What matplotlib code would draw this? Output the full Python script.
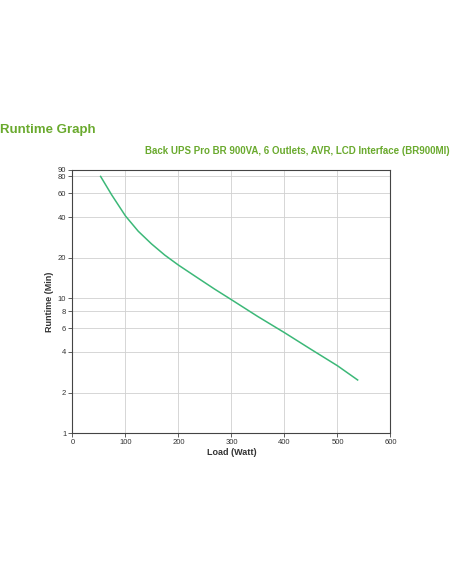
import matplotlib
matplotlib.use("Agg")
import matplotlib.pyplot as plt
from matplotlib.ticker import FixedLocator, NullLocator, FixedFormatter

plt.rcParams['font.family'] = ['Liberation Sans', 'DejaVu Sans']

load = [53, 74, 100, 124, 149, 174, 200, 231, 268, 300, 349, 400, 448, 500, 538]
runtime = [80, 58.3, 40.7, 31.4, 25.3, 20.9, 17.6, 14.6, 11.7, 9.75, 7.35, 5.56, 4.23, 3.16, 2.48]

y_ticks = [1, 2, 4, 6, 8, 10, 20, 40, 60, 80, 90]
x_ticks = [0, 100, 200, 300, 400, 500, 600]

title = "Runtime Graph"
subtitle = "Back UPS Pro BR 900VA, 6 Outlets, AVR, LCD Interface (BR900MI)"

fig = plt.figure(figsize=(4.52, 5.84), dpi=100)
ax = fig.add_axes([72.5/452, 1-433.2/584, (390.5-72.5)/452, (433.2-169.5)/584])

ax.plot(load, runtime, color='#3cb878', lw=1.1)
ax.set_yscale('log')
ax.set_xlim(0, 600)
ax.set_ylim(1, 90)
ax.yaxis.set_major_locator(FixedLocator(y_ticks))
ax.yaxis.set_major_formatter(FixedFormatter([str(v) for v in y_ticks]))
ax.yaxis.set_minor_locator(NullLocator())
ax.set_xticks(x_ticks)
ax.set_xticklabels([str(v) for v in x_ticks])
ax.tick_params(labelsize=5.5, length=3, width=0.6, color='#444444', pad=1.5, labelcolor='#333333')
ax.grid(True, color='#d0d0d0', lw=0.6)
ax.set_axisbelow(True)
for s in ax.spines.values():
    s.set_color('#444444')
    s.set_linewidth(0.8)

ax.set_xlabel("Load (Watt)", fontsize=6.5, fontweight='bold', color='#333333', labelpad=1)
ax.set_ylabel("Runtime (Min)", fontsize=6.5, fontweight='bold', color='#333333', labelpad=3)

fig.text(0.0, 1-130/584, title, fontsize=9.5, fontweight='bold', color='#6aaa2e', ha='left', va='center')
fig.text(450/452, 1-151/584, subtitle, fontsize=7.0, fontweight='bold', color='#6aaa2e', ha='right', va='center')

fig.savefig("out.png", dpi=100)
